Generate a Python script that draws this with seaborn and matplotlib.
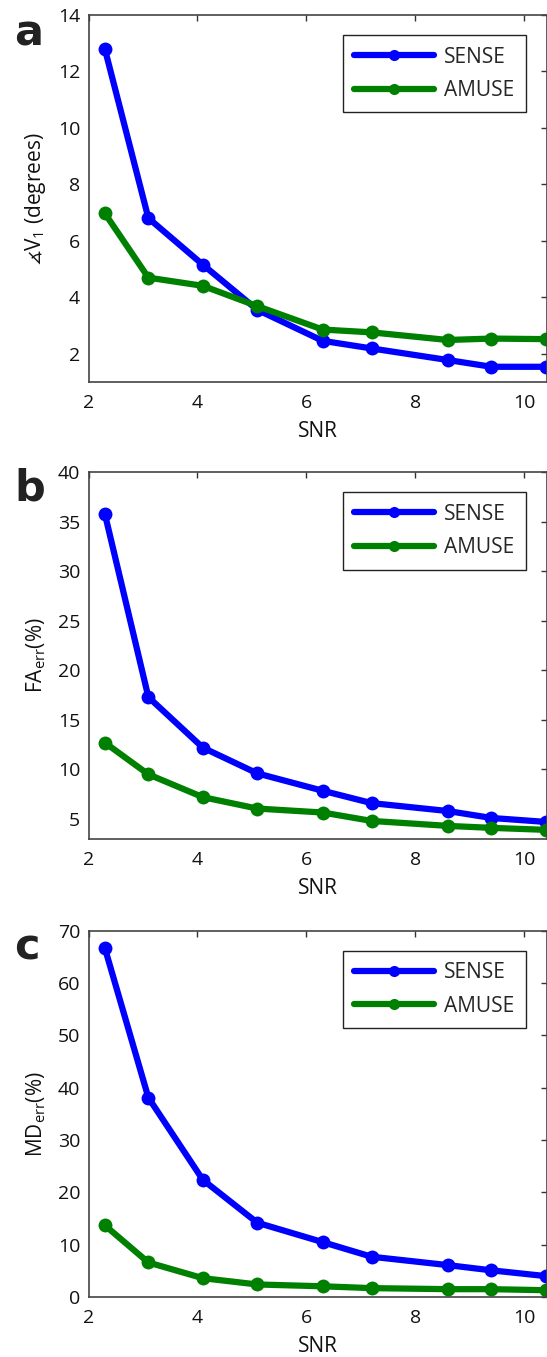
import matplotlib
matplotlib.use("Agg")
import matplotlib.pyplot as plt
import seaborn as sns
import pandas as pd

# SNR values shared by all three panels
snr = [2.3, 3.1, 4.1, 5.1, 6.3, 7.2, 8.6, 9.4, 10.4]

# panel a: angle error of V1 (degrees)
angle_sense = [12.8, 6.8, 5.15, 3.55, 2.45, 2.18, 1.77, 1.53, 1.53]
angle_amuse = [6.97, 4.69, 4.40, 3.68, 2.85, 2.75, 2.48, 2.53, 2.51]

# panel b: FA error (%)
fa_sense = [35.8, 17.3, 12.2, 9.6, 7.85, 6.6, 5.8, 5.1, 4.7]
fa_amuse = [12.7, 9.5, 7.2, 6.05, 5.65, 4.8, 4.3, 4.1, 3.9]

# panel c: MD error (%)
md_sense = [66.7, 38.1, 22.4, 14.2, 10.5, 7.7, 6.1, 5.1, 4.0]
md_amuse = [13.7, 6.6, 3.6, 2.4, 2.05, 1.7, 1.5, 1.5, 1.3]

methods = ['SENSE', 'AMUSE']
colors = ['#0000ff', '#008000']

sns.set_theme(style="white")
plt.rcParams['font.family'] = ['Open Sans', 'DejaVu Sans']
plt.rcParams['mathtext.default'] = 'regular'

fig = plt.figure(figsize=(5.47, 13.57), dpi=100)

panels = [
    dict(sense=angle_sense, amuse=angle_amuse, ylim=(1, 14), yticks=range(2, 15, 2),
         ylabel=r'$\measuredangle$V$_1$ (degrees)', letter='a',
         rect=[0.1618, 0.7187, 0.839, 0.2702], ly=0.9668),
    dict(sense=fa_sense, amuse=fa_amuse, ylim=(3, 40), yticks=range(5, 41, 5),
         ylabel='FA$_{err}$(%)', letter='b',
         rect=[0.1618, 0.3819, 0.839, 0.2701], ly=0.6315),
    dict(sense=md_sense, amuse=md_amuse, ylim=(0, 70), yticks=range(0, 71, 10),
         ylabel='MD$_{err}$(%)', letter='c',
         rect=[0.1618, 0.0442, 0.839, 0.2699], ly=0.2926),
]

for p in panels:
    ax = fig.add_axes(p['rect'])
    df = pd.DataFrame({
        'SNR': snr * 2,
        'value': p['sense'] + p['amuse'],
        'Method': ['SENSE'] * len(snr) + ['AMUSE'] * len(snr),
    })
    sns.lineplot(data=df, x='SNR', y='value', hue='Method', hue_order=methods,
                 palette=colors, marker='o', markersize=10, markeredgewidth=0,
                 linewidth=4.5, ax=ax)

    ax.set_xlim(2, 10.43)
    ax.set_ylim(*p['ylim'])
    ax.set_xticks([2, 4, 6, 8, 10])
    ax.set_yticks(list(p['yticks']))
    ax.set_xlabel('SNR', fontsize=15, labelpad=6.5, color='#111111')
    ax.set_ylabel(p['ylabel'], fontsize=15, labelpad=7, color='#111111')
    ax.tick_params(axis='both', which='both', direction='in', length=4, width=1,
                   color='#333333', labelsize=14, labelcolor='#111111',
                   top=True, right=True)
    ax.tick_params(axis='x', pad=8.5)
    ax.tick_params(axis='y', pad=6)
    for s in ax.spines.values():
        s.set_color('#444444')
        s.set_linewidth(1.2)

    leg = ax.legend(loc='upper right', bbox_to_anchor=(0.9525, 0.9455),
                    borderaxespad=0, fontsize=15, frameon=True, fancybox=False,
                    edgecolor='#222222', framealpha=1, handlelength=3.8,
                    handletextpad=0.5, labelspacing=0.6, borderpad=0.55)
    leg.get_frame().set_linewidth(1.0)
    for h in leg.get_lines():
        h.set_linewidth(4.5)
        h.set_markersize(8)

    fig.text(0.026, p['ly'], p['letter'], fontsize=31, fontweight='heavy',
             family='DejaVu Sans', color='#222222', va='baseline', ha='left')

fig.savefig('out.png', dpi=100)
